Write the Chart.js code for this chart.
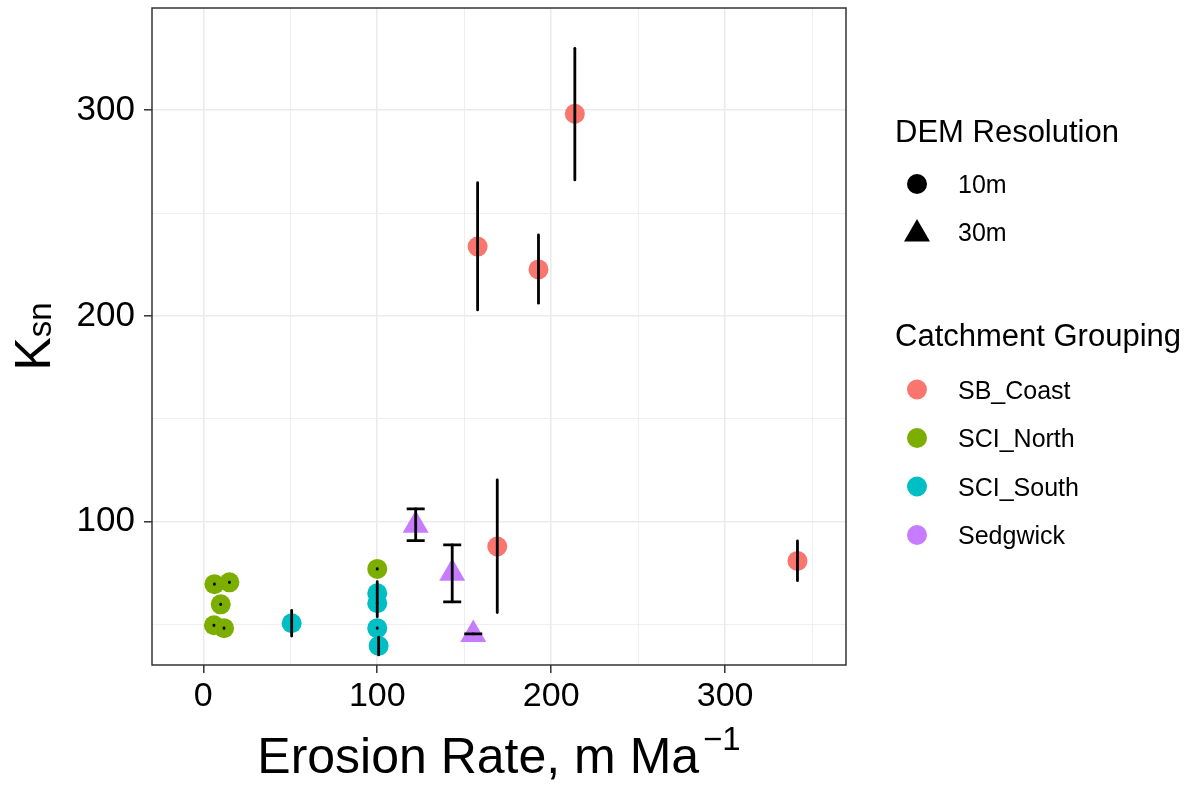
<!DOCTYPE html>
<html>
<head>
<meta charset="utf-8">
<title>Ksn vs erosion rate</title>
<script src="https://cdn.jsdelivr.net/npm/chart.js@4.4.1/dist/chart.umd.min.js"></script>
<style>
  html, body { margin: 0; padding: 0; background: #fff; }
  #wrap { width: 1195px; height: 787px; }
</style>
</head>
<body>
<div id="wrap"><canvas id="ksnChart" width="1195" height="787"></canvas></div>
<script>
// catchment groups, colours and DEM resolution of each group
const groupNames = ['SB_Coast', 'SCI_North', 'SCI_South', 'Sedgwick'];
const groupColors = ['#F8766D', '#7CAE00', '#00BFC4', '#C77CFF'];
const resolutionNames = ['10m', '30m'];
const groupResolution = ['10m', '10m', '10m', '30m'];

// erosion rate (m/Ma), Ksn and the Ksn range for every catchment
const sbCoastErosion = [213.6, 157.7, 192.7, 169.0, 341.6];
const sbCoastKsn     = [298.3, 233.7, 222.6, 87.9, 80.9];
const sbCoastKsnLow  = [266.1, 202.9, 206.2, 55.8, 71.3];
const sbCoastKsnHigh = [330.1, 264.8, 239.4, 120.3, 90.6];

const sciNorthErosion = [6.4, 15.0, 10.0, 6.1, 11.9, 100.0];
const sciNorthKsn     = [69.6, 70.5, 59.8, 49.6, 48.2, 77.0];
const sciNorthKsnLow  = [69.5, 70.4, 59.7, 49.5, 48.1, 76.9];
const sciNorthKsnHigh = [69.7, 70.6, 59.9, 49.7, 48.3, 77.1];

const sciSouthErosion = [50.8, 100.0, 100.0, 100.0, 100.8];
const sciSouthKsn     = [50.6, 65.2, 60.3, 48.2, 39.6];
const sciSouthKsnLow  = [44.4, 53.8, 60.2, 48.1, 35.2];
const sciSouthKsnHigh = [56.8, 70.8, 60.4, 48.3, 43.8];

const sedgwickErosion = [122.1, 143.1, 155.2];
const sedgwickKsn     = [98.2, 74.9, 45.1];
const sedgwickKsnLow  = [90.8, 61.0, 45.4];
const sedgwickKsnHigh = [106.2, 88.7, 45.4];

const xTicks = [0, 50, 100, 150, 200, 250, 300, 350];
const yTicks = [50, 100, 150, 200, 250, 300];

const FONT = '"Liberation Sans", Arial, Helvetica, sans-serif';

function toPoints(xs, ys, lo, hi) {
    return xs.map((x, i) => ({ x: x, y: ys[i], lo: lo[i], hi: hi[i] }));
}

const groupData = [
    toPoints(sbCoastErosion, sbCoastKsn, sbCoastKsnLow, sbCoastKsnHigh),
    toPoints(sciNorthErosion, sciNorthKsn, sciNorthKsnLow, sciNorthKsnHigh),
    toPoints(sciSouthErosion, sciSouthKsn, sciSouthKsnLow, sciSouthKsnHigh),
    toPoints(sedgwickErosion, sedgwickKsn, sedgwickKsnLow, sedgwickKsnHigh)
];

function trianglePath(ctx, x, y, r) {
    ctx.beginPath();
    ctx.moveTo(x, y - r);
    ctx.lineTo(x + r * Math.sin(Math.PI / 3), y + r / 2);
    ctx.lineTo(x - r * Math.sin(Math.PI / 3), y + r / 2);
    ctx.closePath();
}

// vertical Ksn ranges, capped for the 30m catchments
const errorBars = {
    id: 'errorBars',
    afterDatasetsDraw(chart) {
        const ctx = chart.ctx;
        const xs = chart.scales.x, ys = chart.scales.y;
        ctx.save();
        ctx.strokeStyle = '#000';
        ctx.lineWidth = 2.8;
        chart.data.datasets.forEach((ds) => {
            ds.data.forEach((p) => {
                const px = xs.getPixelForValue(p.x);
                const top = ys.getPixelForValue(p.hi);
                const bot = ys.getPixelForValue(p.lo);
                ctx.lineCap = 'round';
                ctx.beginPath();
                ctx.moveTo(px, top);
                ctx.lineTo(px, bot);
                ctx.stroke();
                if (ds.capHalf) {
                    ctx.lineCap = 'butt';
                    ctx.beginPath();
                    ctx.moveTo(px - ds.capHalf, top);
                    ctx.lineTo(px + ds.capHalf, top);
                    ctx.moveTo(px - ds.capHalf, bot);
                    ctx.lineTo(px + ds.capHalf, bot);
                    ctx.stroke();
                }
            });
        });
        ctx.restore();
    }
};

// panel frame, axis titles and the two legends
const decorations = {
    id: 'decorations',
    afterDraw(chart) {
        const ctx = chart.ctx;
        const a = chart.chartArea;
        ctx.save();
        ctx.strokeStyle = '#333333';
        ctx.lineWidth = 1.5;
        ctx.strokeRect(a.left, a.top, a.right - a.left, a.bottom - a.top);

        ctx.fillStyle = '#000';
        ctx.textBaseline = 'alphabetic';
        ctx.textAlign = 'left';

        // x title with superscript
        const main = 'Erosion Rate, m Ma';
        const sup = '\u22121';
        ctx.font = '50px ' + FONT;
        const mw = ctx.measureText(main).width;
        ctx.font = '33px ' + FONT;
        const sw = ctx.measureText(sup).width;
        const x0 = (a.left + a.right) / 2 - (mw + 4 + sw) / 2;
        ctx.font = '50px ' + FONT;
        ctx.fillText(main, x0, 773);
        ctx.font = '33px ' + FONT;
        ctx.fillText(sup, x0 + mw + 4, 750);

        // y title K with subscript sn
        ctx.save();
        ctx.translate(50, (a.top + a.bottom) / 2);
        ctx.rotate(-Math.PI / 2);
        ctx.font = '50px ' + FONT;
        const kw = ctx.measureText('K').width;
        ctx.font = '33px ' + FONT;
        const snw = ctx.measureText('sn').width;
        const k0 = -(kw + snw) / 2;
        ctx.font = '50px ' + FONT;
        ctx.fillText('K', k0, 0);
        ctx.font = '33px ' + FONT;
        ctx.fillText('sn', k0 + kw, 1);
        ctx.restore();

        // DEM resolution legend
        const lx = 895, kx = 917, tx = 958;
        ctx.font = '31px ' + FONT;
        ctx.fillText('DEM Resolution', lx, 142);
        ctx.font = '25px ' + FONT;
        resolutionNames.forEach((name, i) => {
            const cy = 184 + i * 48;
            if (name === '10m') {
                ctx.beginPath();
                ctx.arc(kx, cy, 10, 0, Math.PI * 2);
            } else {
                trianglePath(ctx, kx, cy + 2, 15);
            }
            ctx.fill();
            ctx.fillText(name, tx, cy + 9);
        });

        // catchment grouping legend
        ctx.font = '31px ' + FONT;
        ctx.fillText('Catchment Grouping', lx, 346);
        ctx.font = '25px ' + FONT;
        groupNames.forEach((name, i) => {
            const cy = 389.5 + i * 48.5;
            ctx.fillStyle = groupColors[i];
            ctx.beginPath();
            ctx.arc(kx, cy, 10, 0, Math.PI * 2);
            ctx.fill();
            ctx.fillStyle = '#000';
            ctx.fillText(name, tx, cy + 9);
        });
        ctx.restore();
    }
};

function gridOptions() {
    return {
        color: '#EBEBEB',
        lineWidth: (c) => (c.tick && c.tick.value % 100 === 0) ? 1.6 : 0.8,
        drawTicks: true,
        tickLength: 8,
        tickWidth: 1.5,
        tickColor: (c) => (c.tick && c.tick.value % 100 === 0) ? '#333333' : 'rgba(0,0,0,0)'
    };
}

const ctx = document.getElementById('ksnChart').getContext('2d');
new Chart(ctx, {
    type: 'scatter',
    data: {
        datasets: groupNames.map((name, i) => {
            const tri = groupResolution[i] === '30m';
            return {
                label: name,
                data: groupData[i],
                backgroundColor: groupColors[i],
                borderWidth: 0,
                pointStyle: tri ? 'triangle' : 'circle',
                pointRadius: tri ? 15 : 10,
                pointHoverRadius: tri ? 15 : 10,
                capHalf: tri ? 9 : 0
            };
        })
    },
    options: {
        responsive: false,
        animation: false,
        devicePixelRatio: 1,
        layout: { autoPadding: false, padding: { top: 8, right: 349, left: 0, bottom: 0 } },
        plugins: {
            legend: { display: false },
            tooltip: { enabled: false }
        },
        scales: {
            x: {
                type: 'linear',
                min: -29.5,
                max: 369.5,
                afterBuildTicks: (s) => { s.ticks = xTicks.map(v => ({ value: v })); },
                afterFit: (s) => { s.height = 122; s.paddingLeft = 0; s.paddingRight = 0; },
                border: { display: false },
                grid: gridOptions(),
                ticks: {
                    autoSkip: false,
                    maxRotation: 0,
                    padding: 3,
                    color: '#000',
                    font: { family: FONT, size: 34 },
                    callback: (v) => v % 100 === 0 ? String(v) : ''
                }
            },
            y: {
                type: 'linear',
                min: 30.3,
                max: 349.7,
                afterBuildTicks: (s) => { s.ticks = yTicks.map(v => ({ value: v })); },
                afterFit: (s) => { s.width = 152; s.paddingTop = 0; s.paddingBottom = 0; },
                border: { display: false },
                grid: gridOptions(),
                ticks: {
                    autoSkip: false,
                    padding: 9,
                    color: '#000',
                    font: { family: FONT, size: 35 },
                    callback: (v) => v % 100 === 0 ? String(v) : ''
                }
            }
        }
    },
    plugins: [errorBars, decorations]
});
</script>
</body>
</html>
